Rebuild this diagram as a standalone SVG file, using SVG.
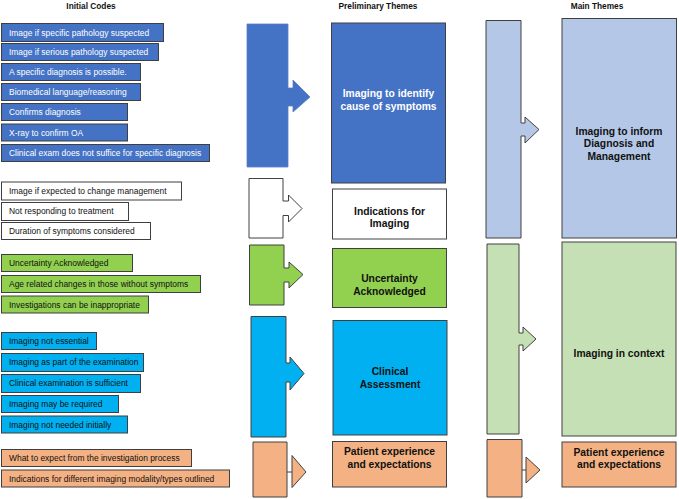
<svg xmlns="http://www.w3.org/2000/svg" width="679" height="499" viewBox="0 0 679 499">
<style>
.code{stroke:#3f3f3f;stroke-width:1}
.ct{font-family:"Liberation Sans",Arial,sans-serif;font-size:8.45px;fill:#111}
.ctw{font-family:"Liberation Sans",Arial,sans-serif;font-size:8.45px;fill:#fff}
.hd{font-family:"Liberation Sans",Arial,sans-serif;font-size:8.3px;font-weight:bold;fill:#111;text-anchor:middle}
.th{font-family:"Liberation Sans",Arial,sans-serif;font-size:10.3px;font-weight:bold;fill:#111;text-anchor:middle}
.thw{font-family:"Liberation Sans",Arial,sans-serif;font-size:10.3px;font-weight:bold;fill:#fff;text-anchor:middle}
.box{stroke:#404040;stroke-width:1}
.arr{stroke:#404040;stroke-width:1}
.blue{fill:#4472C4}.white{fill:#fff}.green{fill:#92D050}.cyan{fill:#00B0F0}.orange{fill:#F4B183}.lblue{fill:#B4C7E7}.lgreen{fill:#C5E0B4}
</style>
<rect width="679" height="499" fill="#fff"/>
<text class="hd" x="91" y="9">Initial Codes</text>
<text class="hd" x="378" y="9">Preliminary Themes</text>
<text class="hd" x="597" y="9">Main Themes</text>

<g id="codes-blue">
<rect class="code blue" x="1.5" y="23.5" width="162" height="18"/><text class="ctw" x="9" y="35.5">Image if specific pathology suspected</text>
<rect class="code blue" x="1.5" y="43.5" width="157" height="17"/><text class="ctw" x="9" y="55">Image if serious pathology suspected</text>
<rect class="code blue" x="1.5" y="63.5" width="139" height="17"/><text class="ctw" x="9" y="75">A specific diagnosis is possible.</text>
<rect class="code blue" x="1.5" y="83.5" width="139" height="17"/><text class="ctw" x="9" y="95">Biomedical language/reasoning</text>
<rect class="code blue" x="1.5" y="103.5" width="126" height="17"/><text class="ctw" x="9" y="115">Confirms diagnosis</text>
<rect class="code blue" x="1.5" y="124" width="126" height="17"/><text class="ctw" x="9" y="135.5">X-ray to confirm OA</text>
<rect class="code blue" x="1.5" y="144.5" width="208" height="17"/><text class="ctw" x="9" y="156">Clinical exam does not suffice for specific diagnosis</text>
</g>
<g id="codes-white">
<rect class="code white" x="1.5" y="182" width="180" height="18"/><text class="ct" x="9" y="193.5">Image if expected to change management</text>
<rect class="code white" x="1.5" y="202.5" width="127" height="18"/><text class="ct" x="9" y="214">Not responding to treatment</text>
<rect class="code white" x="1.5" y="222.5" width="149" height="17"/><text class="ct" x="9" y="234">Duration of symptoms considered</text>
</g>
<g id="codes-green">
<rect class="code green" x="1.5" y="254.5" width="131" height="17"/><text class="ct" x="9" y="266">Uncertainty Acknowledged</text>
<rect class="code green" x="1.5" y="275.5" width="199" height="17"/><text class="ct" x="9" y="287">Age related changes in those without symptoms</text>
<rect class="code green" x="1.5" y="296" width="147" height="17"/><text class="ct" x="9" y="307.5">Investigations can be inappropriate</text>
</g>
<g id="codes-cyan">
<rect class="code cyan" x="1.5" y="332.5" width="95" height="17"/><text class="ct" x="9" y="344">Imaging not essential</text>
<rect class="code cyan" x="1.5" y="353.5" width="142" height="18"/><text class="ct" x="9" y="365">Imaging as part of the examination</text>
<rect class="code cyan" x="1.5" y="374.5" width="139" height="18"/><text class="ct" x="9" y="386">Clinical examination is sufficient</text>
<rect class="code cyan" x="1.5" y="395.5" width="117" height="17"/><text class="ct" x="9" y="407">Imaging may be required</text>
<rect class="code cyan" x="1.5" y="416" width="126" height="17"/><text class="ct" x="9" y="427.5">Imaging not needed initially</text>
</g>
<g id="codes-orange">
<rect class="code orange" x="1.5" y="449.5" width="190" height="17"/><text class="ct" x="9" y="461">What to expect from the investigation process</text>
<rect class="code orange" x="1.5" y="470" width="228" height="17"/><text class="ct" x="9" y="481.5">Indications for different imaging modality/types outlined</text>
</g>

<g id="connectors">
<path class="blue" stroke="#5B7FC9" stroke-width="0.8" d="M247,24 H288 V88 H293 V80 L310,97 L293,112 V106 H288 V167 H247 Z"/>
<path class="arr white" d="M249,178.5 H283 V201 H288.5 V195 L302,208.5 L288.5,222 V215.5 H283 V238 H249 Z"/>
<path class="arr green" d="M249.5,245 H284 V268 H289 V262 L303,274.5 L289,288 V282 H284 V305 H249.5 Z"/>
<path class="arr cyan" d="M251,316.5 H286 V363 H290 V357 L304,373.5 L290,390 V382 H286 V437 H251 Z"/>
<path class="arr orange" d="M253,442 H287 V497 H253 Z"/>
<line class="arr" x1="287" y1="472" x2="292" y2="472"/>
<path class="arr orange" d="M292,455.5 L306,472 L292,487.5 Z"/>
<path class="arr lblue" d="M486,20.5 H521 V123 H525 V117 L539,129.5 L525,143 V136 H521 V238 H486 Z"/>
<path class="arr lgreen" d="M487,244 H519 V333 H523 V327 L536,339 L523,351 V345 H519 V434 H487 Z"/>
<path class="arr orange" d="M487,439.5 H522 V497 H487 Z"/>
<line class="arr" x1="522" y1="470" x2="526" y2="470"/>
<path class="arr orange" d="M526,457 L540,470 L526,483 Z"/>
</g>

<g id="prelim-imaging-identify">
<rect class="box blue" x="331.5" y="23" width="114" height="160"/>
<text class="thw" x="388.5" y="96.5">Imaging to identify</text>
<text class="thw" x="388.5" y="109.5">cause of symptoms</text>
</g>
<g id="prelim-indications">
<rect class="box white" x="332.5" y="189" width="114" height="50"/>
<text class="th" x="389.5" y="214.5">Indications for</text>
<text class="th" x="389.5" y="227">Imaging</text>
</g>
<g id="prelim-uncertainty">
<rect class="box green" x="332.5" y="248.5" width="114" height="59"/>
<text class="th" x="389.5" y="281.5">Uncertainty</text>
<text class="th" x="389.5" y="294.5">Acknowledged</text>
</g>
<g id="prelim-clinical">
<rect class="box cyan" x="333" y="320.5" width="114" height="114.5"/>
<text class="th" x="390" y="374.5">Clinical</text>
<text class="th" x="390" y="387.5">Assessment</text>
</g>
<g id="prelim-patient">
<rect class="box orange" x="332.5" y="441.5" width="114" height="45.5"/>
<text class="th" x="389.5" y="455">Patient experience</text>
<text class="th" x="389.5" y="467.5">and expectations</text>
</g>

<g id="main-imaging-inform">
<rect class="box lblue" x="562" y="18.5" width="114.5" height="219.5"/>
<text class="th" x="619" y="134.5">Imaging to inform</text>
<text class="th" x="619" y="147">Diagnosis and</text>
<text class="th" x="619" y="159.5">Management</text>
</g>
<g id="main-context">
<rect class="box lgreen" x="562" y="242" width="114" height="194"/>
<text class="th" x="619" y="357">Imaging in context</text>
</g>
<g id="main-patient">
<rect class="box orange" x="562" y="442" width="114" height="45"/>
<text class="th" x="619" y="455.5">Patient experience</text>
<text class="th" x="619" y="468">and expectations</text>
</g>
</svg>
